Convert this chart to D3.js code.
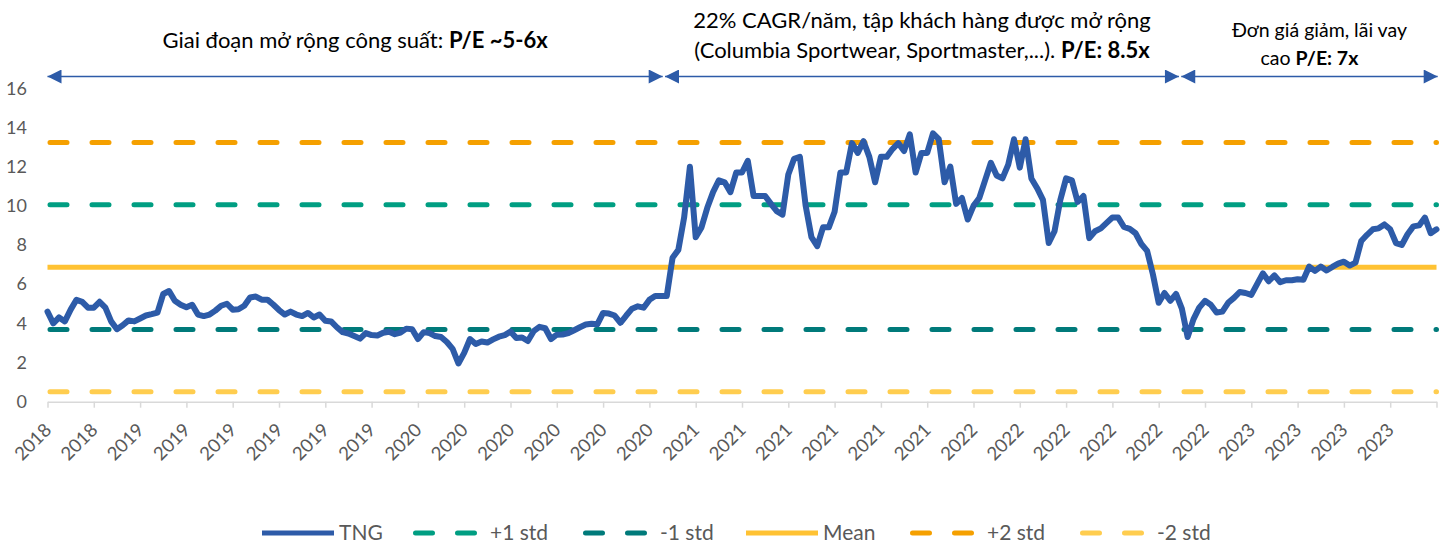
<!DOCTYPE html>
<meta charset="utf-8">
<head>
<style>
  body { margin: 0; background: #fff; }
  text { font-family: Lato, "Noto Sans", sans-serif; }
</style>
</head>

<script src="https://cdn.jsdelivr.net/npm/d3@7/dist/d3.min.js"></script>

<body>
    <div id="my_dataviz"></div>
</body>

<script>

    // x axis labels (one per tick, last tick has no label)
    var tickLabels = ["2018", "2018",
        "2019", "2019", "2019", "2019", "2019", "2019",
        "2020", "2020", "2020", "2020", "2020", "2020",
        "2021", "2021", "2021", "2021", "2021", "2021",
        "2022", "2022", "2022", "2022", "2022", "2022",
        "2023", "2023", "2023", "2023"];

    // TNG P/E (8 points per tick interval)
    var tng = [
        4.6, 4.0, 4.3, 4.1, 4.7, 5.2, 5.1, 4.8,
        4.8, 5.1, 4.8, 4.1, 3.7, 3.9, 4.15, 4.1,
        4.25, 4.4, 4.47, 4.55, 5.5, 5.65, 5.15, 4.95,
        4.82, 4.95, 4.45, 4.37, 4.45, 4.65, 4.9, 5.0,
        4.7, 4.72, 4.9, 5.32, 5.37, 5.21, 5.21, 4.96,
        4.68, 4.45, 4.6, 4.45, 4.37, 4.53, 4.3, 4.45,
        4.13, 4.1, 3.8, 3.55, 3.48, 3.35, 3.22, 3.5,
        3.4, 3.38, 3.52, 3.57, 3.45, 3.53, 3.73, 3.7,
        3.2, 3.55, 3.5, 3.35, 3.3, 3.05, 2.7, 1.95,
        2.49, 3.2, 2.95, 3.07, 3.02, 3.18, 3.32, 3.4,
        3.58, 3.25, 3.28, 3.1, 3.6, 3.82, 3.75, 3.2,
        3.42, 3.43, 3.5, 3.65, 3.8, 3.94, 3.98, 3.95,
        4.53, 4.5, 4.4, 4.03, 4.4, 4.75, 4.87, 4.8,
        5.2, 5.4, 5.4, 5.4, 7.35, 7.75, 9.4, 12.0,
        8.4, 8.9, 9.9, 10.7, 11.3, 11.2, 10.7, 11.7,
        11.7, 12.3, 10.5, 10.5, 10.5, 10.1, 9.73, 9.55,
        11.6, 12.4, 12.5, 10.0, 8.4, 7.94, 8.9, 8.9,
        9.7, 11.7, 11.7, 13.2, 12.7, 13.3, 12.5, 11.2,
        12.5, 12.5, 12.9, 13.2, 12.8, 13.65, 11.7, 12.7,
        12.7, 13.7, 13.4, 11.2, 12.0, 10.1, 10.4, 9.3,
        10.0, 10.4, 11.3, 12.2, 11.55, 11.4, 12.1, 13.4,
        11.95, 13.4, 11.4, 10.9, 10.3, 8.1, 8.7, 10.3,
        11.4, 11.3, 10.2, 10.5, 8.35, 8.7, 8.85, 9.13,
        9.4, 9.4, 8.92, 8.82, 8.6, 8.05, 7.7, 6.5,
        5.05, 5.55, 5.15, 5.5, 4.75, 3.3, 4.2, 4.8,
        5.15, 4.95, 4.55, 4.6, 5.05, 5.3, 5.6, 5.55,
        5.45, 6.0, 6.55, 6.15, 6.45, 6.1, 6.2, 6.2,
        6.25, 6.23, 6.9, 6.68, 6.9, 6.7, 6.88, 7.05,
        7.15, 6.95, 7.1, 8.2, 8.52, 8.8, 8.85, 9.05,
        8.8, 8.1, 8.0, 8.55, 8.95, 9.0, 9.4, 8.6, 8.8
    ];

    // mean / std bands
    var bandNames  = ["+1 std", "-1 std", "Mean", "+2 std", "-2 std"];
    var bandValues = [10.05, 3.69, 6.87, 13.23, 0.51];
    var bandColors = ["#009E82", "#007A7A", "#FFC233", "#F5A000", "#FFCD4F"];
    var bandDashed = [true, true, false, true, true];

    var yTicks = [0, 2, 4, 6, 8, 10, 12, 14, 16];

    // period annotations: [start index, end index] and text lines
    var periodSpans = [[0, 106.3], [106.7, 195.5], [195.9, 240.2]];
    var periodText = [
        [[["Giai đoạn mở rộng công suất: ", false], ["P/E ~5-6x", true]]],
        [[["22% CAGR/năm, tập khách hàng được mở rộng", false]],
         [["(Columbia Sportwear, Sportmaster,...). ", false], ["P/E: 8.5x", true]]],
        [[["Đơn giá giảm, lãi vay", false]],
         [["cao ", false], ["P/E: 7x", true]]]
    ];
    var periodTextY = [[48], [28, 58], [37, 65]];
    var periodTextDx = [[0], [0, 0], [10, 0]];
    var periodFont = [22, 22, 19.5];

    var blue = "#2D5BA8";
    var width = 1448, height = 546;

    var svg = d3.select("#my_dataviz")
      .append("svg")
        .attr("width", width)
        .attr("height", height);

    var x = d3.scaleLinear()
        .domain([0, tng.length - 1])
        .range([47.5, 1436.5]);

    var xTick = d3.scaleLinear()
        .domain([0, tickLabels.length])
        .range([47.5, 1436.5]);

    var y = d3.scaleLinear()
        .domain([0, 16])
        .range([401.7, 88.3]);

    // X axis
    var xAxis = svg.append("g")
        .attr("transform", "translate(0," + y(0) + ")")
        .call(d3.axisBottom(xTick)
            .tickValues(d3.range(tickLabels.length + 1))
            .tickFormat(function(i) { return tickLabels[i] || ""; })
            .tickSize(6)
            .tickSizeOuter(0));
    xAxis.select(".domain").attr("stroke", "#D9D9D9").attr("stroke-width", 1.5);
    xAxis.selectAll(".tick line").attr("stroke", "#D9D9D9").attr("stroke-width", 1.5);
    xAxis.selectAll(".tick text")
        .attr("fill", "#595959")
        .style("font-size", "18.5px")
        .style("text-anchor", "end")
        .attr("dy", null)
        .attr("y", null)
        .attr("transform", "translate(4.5,29.5) rotate(-45)");

    // Y axis (labels only)
    var yAxis = svg.append("g")
        .attr("transform", "translate(35,0)")
        .call(d3.axisLeft(y).tickValues(yTicks).tickSize(0).tickPadding(8));
    yAxis.select(".domain").remove();
    yAxis.selectAll(".tick text")
        .attr("fill", "#595959")
        .style("font-size", "18px");

    // bands
    bandValues.forEach(function(v, k) {
        svg.append("line")
            .attr("x1", x(0) + (bandDashed[k] ? 2.5 : 0))
            .attr("x2", x(tng.length - 1))
            .attr("y1", y(v))
            .attr("y2", y(v))
            .attr("stroke", bandColors[k])
            .attr("stroke-width", 5)
            .attr("stroke-linecap", bandDashed[k] ? "round" : "butt")
            .attr("stroke-dasharray", bandDashed[k] ? "17 25" : null);
    });

    // TNG line
    svg.append("path")
        .datum(tng)
        .attr("fill", "none")
        .attr("stroke", blue)
        .attr("stroke-width", 6)
        .attr("stroke-linejoin", "round")
        .attr("stroke-linecap", "round")
        .attr("d", d3.line()
            .x(function(d, i) { return x(i); })
            .y(function(d) { return y(d); }));

    // arrows
    svg.append("defs").append("marker")
        .attr("id", "arrow")
        .attr("viewBox", "0 0 10 10")
        .attr("refX", 10)
        .attr("refY", 5)
        .attr("markerUnits", "userSpaceOnUse")
        .attr("markerWidth", 15)
        .attr("markerHeight", 14)
        .attr("orient", "auto-start-reverse")
      .append("path")
        .attr("d", "M0,0 L10,5 L0,10 Z")
        .attr("fill", blue);

    periodSpans.forEach(function(s, k) {
        svg.append("line")
            .attr("x1", x(s[0]))
            .attr("x2", x(s[1]))
            .attr("y1", 76.5)
            .attr("y2", 76.5)
            .attr("stroke", blue)
            .attr("stroke-width", 1.5)
            .attr("marker-start", "url(#arrow)")
            .attr("marker-end", "url(#arrow)");

        var cx = (x(s[0]) + x(s[1])) / 2;
        periodText[k].forEach(function(parts, j) {
            var t = svg.append("text")
                .attr("x", cx + periodTextDx[k][j])
                .attr("y", periodTextY[k][j])
                .attr("text-anchor", "middle")
                .attr("fill", "#000")
                .style("font-size", periodFont[k] + "px");
            parts.forEach(function(p) {
                t.append("tspan")
                    .attr("font-weight", p[1] ? "bold" : null)
                    .text(p[0]);
            });
        });
    });

    // legend
    var legendNames = ["TNG"].concat(bandNames);
    var legendColors = [blue].concat(bandColors);
    var legendDashed = [false].concat(bandDashed);
    var legendX = [262, 413, 583, 746, 910, 1080];
    var ly = 533;

    legendNames.forEach(function(name, k) {
        var g = svg.append("g").attr("transform", "translate(" + legendX[k] + "," + ly + ")");
        if (legendDashed[k]) {
            g.append("line")
                .attr("x1", 2.5).attr("x2", 64)
                .attr("y1", 0).attr("y2", 0)
                .attr("stroke", legendColors[k])
                .attr("stroke-width", 5)
                .attr("stroke-linecap", "round")
                .attr("stroke-dasharray", "17 25");
        } else {
            g.append("line")
                .attr("x1", 0).attr("x2", 72)
                .attr("y1", 0).attr("y2", 0)
                .attr("stroke", legendColors[k])
                .attr("stroke-width", 5);
        }
        g.append("text")
            .attr("x", 77)
            .attr("y", 0)
            .attr("dy", "0.35em")
            .attr("fill", "#595959")
            .style("font-size", "21px")
            .text(name);
    });

</script>
